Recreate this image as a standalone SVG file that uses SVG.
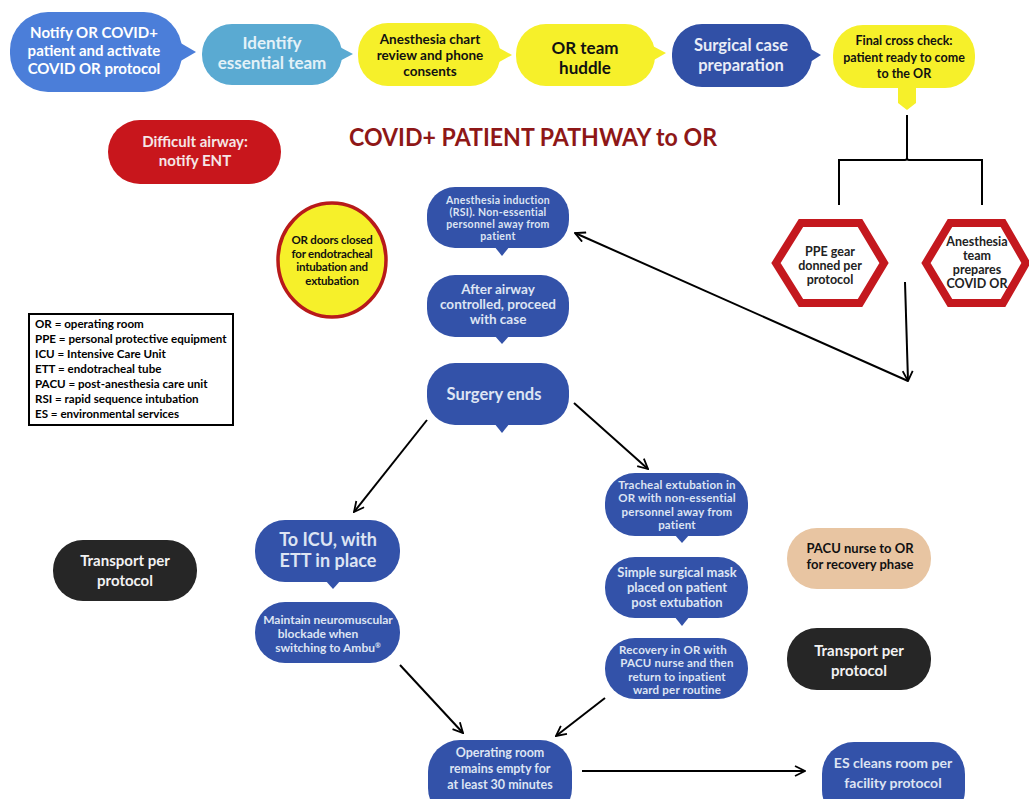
<svg xmlns="http://www.w3.org/2000/svg" width="1029" height="799" viewBox="0 0 1029 799">
<defs>
<marker id="arr2" viewBox="0 0 12 12" refX="11" refY="6" markerWidth="12" markerHeight="12" markerUnits="userSpaceOnUse" orient="auto">
<path d="M1,1 L11,6 L1,11" fill="none" stroke="#000" stroke-width="1.8"/>
</marker>
</defs>
<style>
text{font-family:Lato,"Liberation Sans",sans-serif;font-weight:bold;text-anchor:middle}
.blue{fill:#3352a9}
.dblue{fill:#3150a6}
.yel{fill:#f6f02a}
.w{fill:#ffffff}
.lw{fill:#dde4f3}
.k{fill:#111111}
.hex{fill:#ffffff;stroke:#c4181e;stroke-width:8;stroke-linejoin:miter}
.ln{fill:none;stroke:#000;stroke-width:2}
.leg{text-anchor:start;font-size:11.6px;fill:#000}
</style>
<rect width="1029" height="799" fill="#ffffff"/>

<g id="n-notify">
<rect x="10" y="12" width="172" height="80" rx="38" fill="#4b7ed9"/>
<polygon points="172,38 196,52 172,66" fill="#4b7ed9"/>
<text font-size="15" class="w"><tspan x="94" y="38">Notify OR COVID+</tspan><tspan x="94" y="56">patient and activate</tspan><tspan x="94" y="74">COVID OR protocol</tspan></text>
</g>
<g id="n-identify">
<rect x="202" y="24" width="140" height="61" rx="30" fill="#5aaad2"/>
<polygon points="334,44 353,54 334,64" fill="#5aaad2"/>
<text font-size="17" fill="#e3f1f8"><tspan x="272" y="49">Identify</tspan><tspan x="272" y="69">essential team</tspan></text>
</g>
<g id="n-chart">
<rect x="358" y="23" width="142" height="63" rx="30" class="yel"/>
<polygon points="492,44 512,55 492,66" class="yel"/>
<text font-size="13.5" class="k"><tspan x="430" y="44">Anesthesia chart</tspan><tspan x="430" y="60">review and phone</tspan><tspan x="430" y="76">consents</tspan></text>
</g>
<g id="n-huddle">
<rect x="516" y="24" width="139" height="62" rx="30" class="yel"/>
<polygon points="647,43 666,53 647,64" class="yel"/>
<text font-size="17" class="k"><tspan x="585" y="54">OR team</tspan><tspan x="585" y="74">huddle</tspan></text>
</g>
<g id="n-surgprep">
<rect x="672" y="24" width="140" height="63" rx="30" class="dblue"/>
<polygon points="804,45 821,55 804,66" class="dblue"/>
<text font-size="16.5" fill="#e8ecf7"><tspan x="741" y="51">Surgical case</tspan><tspan x="741" y="71">preparation</tspan></text>
</g>
<g id="n-final">
<rect x="833" y="25" width="142" height="63" rx="30" class="yel"/>
<polygon points="898,86 898,103 907,110 916,103 916,86" class="yel"/>
<text font-size="12.5" class="k"><tspan x="904" y="45">Final cross check:</tspan><tspan x="904" y="62">patient ready to come</tspan><tspan x="904" y="78">to the OR</tspan></text>
</g>

<g id="n-airway">
<rect x="108" y="120" width="173" height="64" rx="32" fill="#c8161c"/>
<text font-size="15" fill="#f5e6e6"><tspan x="195" y="147">Difficult airway:</tspan><tspan x="195" y="166">notify ENT</tspan></text>
</g>

<text id="title" x="533" y="146" font-size="24" fill="#8e1717" textLength="368" lengthAdjust="spacingAndGlyphs">COVID+ PATIENT PATHWAY to OR</text>

<g id="n-ppe">
<polygon class="hex" points="776,263 801,223 860,223 884,263 860,303 801,303"/>
<text font-size="12.5" fill="#222"><tspan x="830" y="256">PPE gear</tspan><tspan x="830" y="270">donned per</tspan><tspan x="830" y="284">protocol</tspan></text>
</g>
<g id="n-anteam">
<polygon class="hex" points="926,263 950,223 1003,223 1026,263 1003,303 950,303"/>
<text font-size="12.5" fill="#222"><tspan x="977" y="246">Anesthesia</tspan><tspan x="977" y="260">team</tspan><tspan x="977" y="274">prepares</tspan><tspan x="977" y="288">COVID OR</tspan></text>
</g>

<g id="n-doors">
<ellipse cx="332" cy="260" rx="54" ry="57" fill="#f6f02a" stroke="#b81a1a" stroke-width="3.5"/>
<text font-size="11.5" class="k" letter-spacing="-0.2"><tspan x="332" y="244">OR doors closed</tspan><tspan x="332" y="258">for endotracheal</tspan><tspan x="332" y="271">intubation and</tspan><tspan x="332" y="285">extubation</tspan></text>
</g>

<g id="n-induction">
<rect x="427" y="187" width="142" height="61" rx="28" class="blue"/>
<polygon points="494,246 502,256 510,246" class="blue"/>
<text font-size="10.5" class="lw" letter-spacing="0.3"><tspan x="498" y="204">Anesthesia  induction</tspan><tspan x="498" y="216">(RSI). Non-essential</tspan><tspan x="498" y="228">personnel away from</tspan><tspan x="498" y="240">patient</tspan></text>
</g>
<g id="n-after">
<rect x="427" y="275" width="142" height="62" rx="28" class="blue"/>
<polygon points="494,335 502,344 510,335" class="blue"/>
<text font-size="13.5" class="lw"><tspan x="498" y="294">After airway</tspan><tspan x="498" y="309">controlled, proceed</tspan><tspan x="498" y="324">with case</tspan></text>
</g>
<g id="n-ends">
<rect x="427" y="363" width="142" height="62" rx="28" class="blue"/>
<polygon points="494,423 502,433 510,423" class="blue"/>
<text font-size="16.5" class="lw"><tspan x="494" y="400">Surgery ends</tspan></text>
</g>

<g id="legend">
<rect x="29" y="314" width="204" height="111" fill="#fff" stroke="#000" stroke-width="2"/>
<text class="leg"><tspan x="35" y="328">OR = operating room</tspan><tspan x="35" y="343">PPE = personal protective equipment</tspan><tspan x="35" y="358">ICU = Intensive Care Unit</tspan><tspan x="35" y="373">ETT = endotracheal tube</tspan><tspan x="35" y="388">PACU = post-anesthesia care unit</tspan><tspan x="35" y="403">RSI = rapid sequence intubation</tspan><tspan x="35" y="418">ES = environmental services</tspan></text>
</g>

<g id="n-icu">
<rect x="255" y="520" width="145" height="62" rx="30" class="blue"/>
<polygon points="325,580 333,589 341,580" class="blue"/>
<text font-size="18" class="lw"><tspan x="328" y="546">To ICU, with</tspan><tspan x="328" y="567">ETT in place</tspan></text>
</g>
<g id="n-maintain">
<rect x="255" y="602" width="145" height="61" rx="30" class="blue"/>
<text font-size="12" class="lw"><tspan x="328" y="624">Maintain neuromuscular</tspan><tspan x="318" y="638">blockade when</tspan><tspan x="328" y="652">switching to Ambu<tspan font-size="7" dy="-4">®</tspan></tspan></text>
</g>
<g id="n-transportL">
<rect x="53" y="540" width="144" height="61" rx="30" fill="#262626"/>
<text font-size="15" fill="#f2f2f2"><tspan x="125" y="566">Transport per</tspan><tspan x="125" y="586">protocol</tspan></text>
</g>

<g id="n-tracheal">
<rect x="605" y="473" width="143" height="63" rx="30" class="blue"/>
<polygon points="674,534 682,543 690,534" class="blue"/>
<text font-size="11.5" class="lw" letter-spacing="0.2"><tspan x="677" y="489">Tracheal  extubation in</tspan><tspan x="677" y="502">OR with non-essential</tspan><tspan x="677" y="516">personnel  away  from</tspan><tspan x="677" y="529">patient</tspan></text>
</g>
<g id="n-mask">
<rect x="605" y="557" width="143" height="61" rx="30" class="blue"/>
<polygon points="674,616 682,626 690,616" class="blue"/>
<text font-size="13" class="lw"><tspan x="677" y="577">Simple surgical mask</tspan><tspan x="677" y="592">placed on  patient</tspan><tspan x="677" y="607">post  extubation</tspan></text>
</g>
<g id="n-recovery">
<rect x="605" y="638" width="143" height="61" rx="30" class="blue"/>
<text font-size="11.5" class="lw" letter-spacing="0.2"><tspan x="673" y="654">Recovery in OR with</tspan><tspan x="677" y="667">PACU nurse and then</tspan><tspan x="677" y="681">return to inpatient</tspan><tspan x="677" y="694">ward per  routine</tspan></text>
</g>
<g id="n-pacu">
<rect x="787" y="528" width="144" height="61" rx="30" fill="#e8c5a2"/>
<text font-size="13" class="k"><tspan x="860" y="553">PACU nurse to OR</tspan><tspan x="860" y="569">for recovery phase</tspan></text>
</g>
<g id="n-transportR">
<rect x="787" y="628" width="144" height="62" rx="30" fill="#262626"/>
<text font-size="15" fill="#f2f2f2"><tspan x="859" y="656">Transport per</tspan><tspan x="859" y="676">protocol</tspan></text>
</g>

<g id="n-empty">
<rect x="428" y="740" width="144" height="80" rx="32" class="blue"/>
<text font-size="12.5" class="lw"><tspan x="500" y="757">Operating room</tspan><tspan x="500" y="773">remains empty  for</tspan><tspan x="500" y="789">at least 30  minutes</tspan></text>
</g>
<g id="n-es">
<rect x="822" y="742" width="143" height="80" rx="32" class="blue"/>
<text font-size="14" class="lw"><tspan x="893" y="768">ES cleans room per</tspan><tspan x="893" y="788">facility protocol</tspan></text>
</g>

<g id="connectors">
<path class="ln" stroke-width="2.5" d="M907,115 V158 Q907,160 905,160 H839 V205 M907,158 Q907,160 909,160 H982 V205"/>
<line class="ln" x1="905" y1="282" x2="908" y2="381" marker-end="url(#arr2)"/>
<line class="ln" x1="908" y1="381" x2="575" y2="233" marker-end="url(#arr2)"/>
<line class="ln" x1="427" y1="420" x2="354" y2="512" marker-end="url(#arr2)"/>
<line class="ln" x1="574" y1="403" x2="648" y2="469" marker-end="url(#arr2)"/>
<line class="ln" x1="400" y1="665" x2="463" y2="733" marker-end="url(#arr2)"/>
<line class="ln" x1="605" y1="698" x2="556" y2="736" marker-end="url(#arr2)"/>
<line class="ln" x1="582" y1="771" x2="805" y2="771" marker-end="url(#arr2)"/>
</g>
</svg>
